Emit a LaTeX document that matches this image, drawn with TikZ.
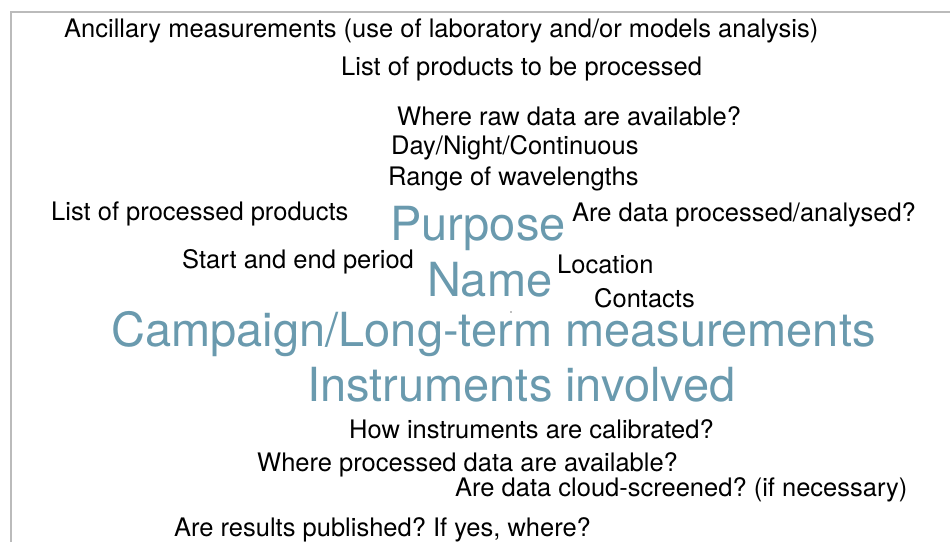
\documentclass[tikz,border=0pt]{standalone}
\usepackage{fontspec}
\setmainfont{TeX Gyre Heros}
\frenchspacing
\definecolor{teal}{HTML}{6A9AAE}
\definecolor{frame}{HTML}{BBBBBB}
\tikzset{
  small/.style={anchor=base west, inner sep=0pt, font=\fontsize{25.5}{28}\selectfont, text=black},
  big/.style={anchor=base west, inner sep=0pt, font=\fontsize{47}{50}\selectfont, text=teal},
}
\begin{document}
\begin{tikzpicture}[x=1pt,y=-1pt]
\useasboundingbox (0,0) rectangle (950,542);
\draw[frame, line width=1.3pt] (11,542) -- (11,12) -- (950,12);
\node[small] (anc) at (64,37) {Ancillary measurements (use of laboratory and/or models analysis)};
\node[small] (lpp) at (341,75) {List of products to be processed};
\node[small] (raw) at (397,125) {Where raw data are available?};
\node[small] (day) at (391,154) {Day/Night/Continuous};
\node[small] (rng) at (388,185) {Range of wavelengths};
\node[small] (lop) at (51,220) {List of processed products};
\node[small] (proc) at (572,221) {Are data processed/analysed?};
\node[small] (sep) at (182,268) {Start and end period};
\node[small] (loc) at (557,273) {Location};
\node[small] (con) at (594,307) {Contacts};
\node[small] (cal) at (349,438) {How instruments are calibrated?};
\node[small] (wpd) at (257,471) {Where processed data are available?};
\node[small] (cld) at (455,496) {Are data cloud-screened? (if necessary)};
\node[small] (pub) at (174,536) {Are results published? If yes, where?};
\node[big] (pur) at (390,240) {Purpose};
\node[big] (nam) at (427,296) {Name};
\node[big] (cam) at (111,346) {Campaign/Long-term measurements};
\node[big] (ins) at (307,401) {Instruments involved};
\fill[gray] (511,312) circle (0.8);
\end{tikzpicture}
\end{document}
